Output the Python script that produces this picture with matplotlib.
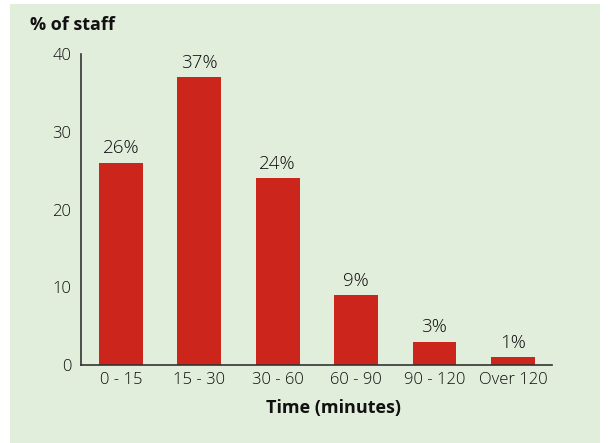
import numpy as np
import matplotlib.pyplot as plt
from matplotlib.patches import Rectangle

categories = ["0 - 15", "15 - 30", "30 - 60", "60 - 90", "90 - 120", "Over 120"]
values = [26, 37, 24, 9, 3, 1]
yticks = [0, 10, 20, 30, 40]

bg = "#e2eedc"
bar_color = "#cc261c"
text_color = "#0d0d0d"
font = ["Open Sans", "DejaVu Sans"]

fig = plt.figure(figsize=(6.09, 4.43), dpi=100)
fig.patch.set_facecolor("white")
fig.add_artist(Rectangle((10 / 609, 0), 590 / 609, 1 - 4 / 443,
                         transform=fig.transFigure, facecolor=bg,
                         edgecolor="none", zorder=-10))

ax = fig.add_axes([81 / 609, 1 - 365 / 443, 471 / 609, 311 / 443])
ax.set_facecolor("none")
x = np.arange(len(categories))
bars = ax.bar(x, values, width=0.56, color=bar_color)
for xi, v in zip(x, values):
    ax.text(xi, v + 0.7, f"{v}%", ha="center", va="bottom",
            fontsize=13.5, fontweight="light", family=font, color=text_color)

ax.set_xlim(-0.51, 5.5)
ax.set_ylim(0, 40)
ax.set_xticks(x)
ax.set_xticklabels(categories, fontsize=12, fontweight="light", family=font, color=text_color)
ax.set_yticks(yticks)
ax.set_yticklabels([str(t) for t in yticks], fontsize=12, fontweight="light",
                   family=font, color=text_color)
ax.tick_params(axis="both", length=0)
ax.tick_params(axis="y", pad=7)
ax.tick_params(axis="x", pad=5)
for s in ["top", "right"]:
    ax.spines[s].set_visible(False)
for s in ["left", "bottom"]:
    ax.spines[s].set_color("#333333")
    ax.spines[s].set_linewidth(1.2)

fig.text(30 / 609, 1 - 25 / 443, "% of staff", fontsize=13, fontweight="bold",
         family=font, va="center", ha="left", color="#111111")
fig.text(334 / 609, 1 - 408 / 443, "Time (minutes)", fontsize=13, fontweight="bold",
         family=font, va="center", ha="center", color="#111111")

fig.savefig("out.png", dpi=100)
plt.close("all")
